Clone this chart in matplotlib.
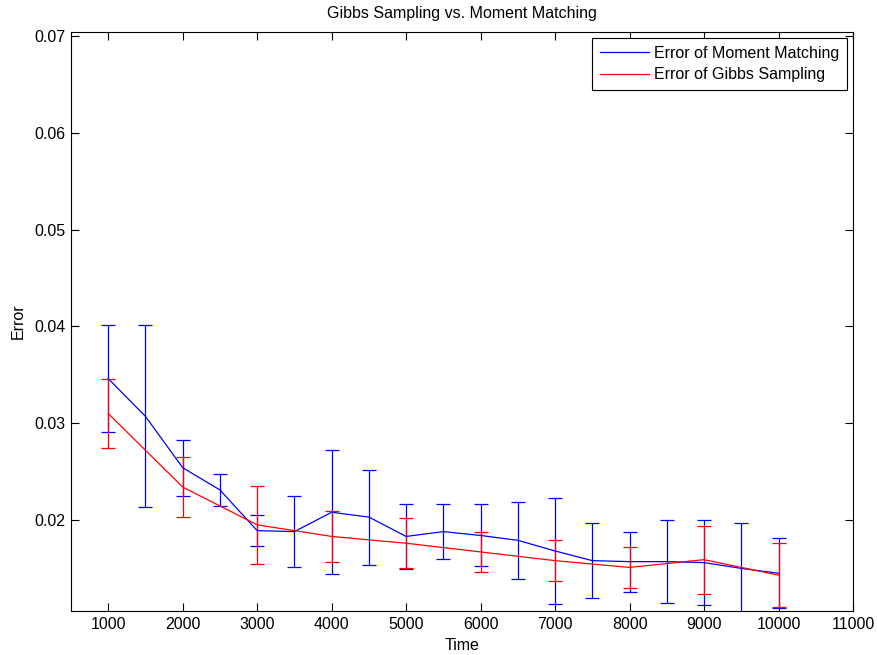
import matplotlib
matplotlib.use("Agg")
import matplotlib.pyplot as plt

# Moment matching (blue), every 500
mm_time = [1000, 1500, 2000, 2500, 3000, 3500, 4000, 4500, 5000, 5500,
           6000, 6500, 7000, 7500, 8000, 8500, 9000, 9500, 10000]
mm_err = [0.0346, 0.0307, 0.0254, 0.0231, 0.0189, 0.0188, 0.0208, 0.0203, 0.0183, 0.0188,
          0.0184, 0.0179, 0.0168, 0.0158, 0.0157, 0.0157, 0.0156, 0.0150, 0.0145]
mm_sd = [0.0055, 0.0094, 0.0029, 0.0017, 0.0016, 0.0037, 0.0064, 0.0049, 0.0034, 0.0028,
         0.0032, 0.0040, 0.0055, 0.0039, 0.0031, 0.0043, 0.0044, 0.0047, 0.0036]

# Gibbs sampling (red), every 1000
gs_time = [1000, 2000, 3000, 4000, 5000, 6000, 7000, 8000, 9000, 10000]
gs_err = [0.0310, 0.0234, 0.0195, 0.0183, 0.0176, 0.0167, 0.0158, 0.0151, 0.0159, 0.0143]
gs_sd = [0.0036, 0.0031, 0.0040, 0.0026, 0.0026, 0.0021, 0.0021, 0.0021, 0.0035, 0.0033]

x_ticks = [1000, 2000, 3000, 4000, 5000, 6000, 7000, 8000, 9000, 10000, 11000]
y_ticks = [0.02, 0.03, 0.04, 0.05, 0.06, 0.07]

plt.rcParams['font.family'] = ['Liberation Sans', 'DejaVu Sans']
FS = 11.5

fig = plt.figure(figsize=(8.78, 6.55), dpi=100)
ax = fig.add_axes([71/878, 44/655, (853-71)/878, (611-32)/655])

ax.errorbar(mm_time, mm_err, yerr=mm_sd, color=(0, 0, 1), lw=0.9, elinewidth=0.9,
            capsize=5, capthick=0.9, label='Error of Moment Matching')
ax.errorbar(gs_time, gs_err, yerr=gs_sd, color=(1, 0, 0), lw=0.9, elinewidth=0.9,
            capsize=5, capthick=0.9, label='Error of Gibbs Sampling')

ax.set_xlim(500, 11000)
ax.set_ylim(0.0106, 0.0704)
ax.set_xticks(x_ticks)
ax.set_xticklabels([str(t) for t in x_ticks])
ax.set_yticks(y_ticks)
ax.set_yticklabels([f'{t:.2f}' for t in y_ticks])
ax.tick_params(direction='in', top=True, right=True, length=6, width=0.8,
               labelsize=FS, pad=4)
for s in ax.spines.values():
    s.set_linewidth(0.8)

ax.set_title('Gibbs Sampling vs. Moment Matching', fontsize=FS, pad=10)
ax.set_xlabel('Time', fontsize=FS, labelpad=5)
ax.set_ylabel('Error', fontsize=FS, labelpad=6)

handles, labels = ax.get_legend_handles_labels()
handles = [h[0] for h in handles]
leg = ax.legend(handles, labels, loc='upper right', fontsize=FS, fancybox=False,
                framealpha=1, edgecolor='black', handlelength=3.1, borderpad=0.5,
                labelspacing=0.4, handletextpad=0.3, borderaxespad=0.37)
leg.get_frame().set_linewidth(0.8)

fig.savefig('out.png', dpi=100)
